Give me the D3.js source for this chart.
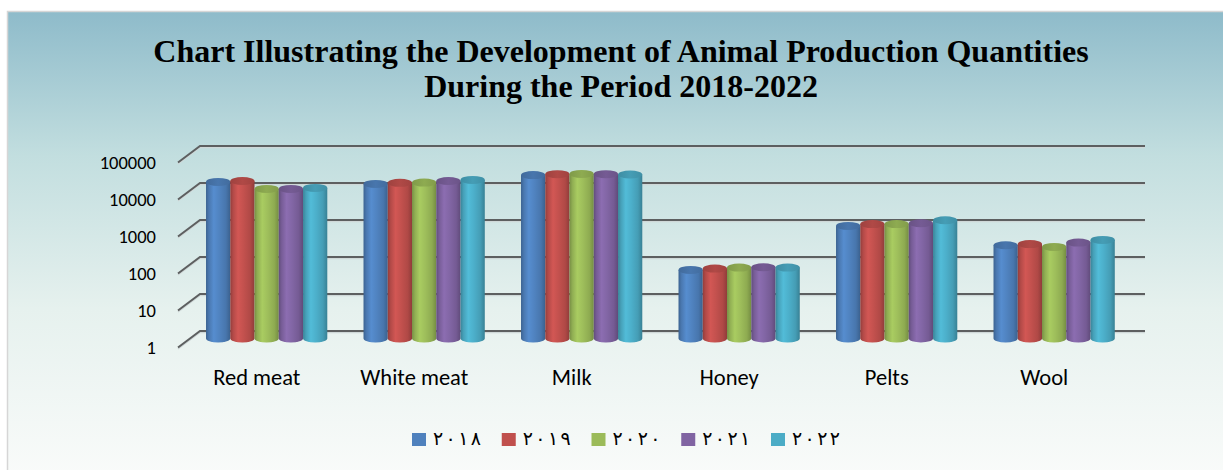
<!DOCTYPE html>
<html>
<head>
<meta charset="utf-8">
<script src="https://cdn.jsdelivr.net/npm/d3@7"></script>
<style>
  html, body { margin: 0; padding: 0; background: #ffffff; }
  svg { display: block; }
</style>
</head>
<body>
<svg id="chart" width="1223" height="470"></svg>
<script>
// Animal production quantities, 2018-2022 (log scale)
const categories = ["Red meat", "White meat", "Milk", "Honey", "Pelts", "Wool"];
const seriesNames = ["٢٠١٨", "٢٠١٩", "٢٠٢٠", "٢٠٢١", "٢٠٢٢"];
const values2018 = [17000, 15000, 26000, 71, 1100, 330];
const values2019 = [18000, 16000, 27500, 77, 1230, 355];
const values2020 = [11000, 16300, 28000, 82, 1230, 297];
const values2021 = [11000, 18000, 27500, 84, 1300, 390];
const values2022 = [11700, 19200, 27000, 82, 1560, 460];
const yTicks = [1, 10, 100, 1000, 10000, 100000];
const titleLines = [
  "Chart Illustrating the Development of Animal Production Quantities",
  "During the Period 2018-2022"
];
const seriesColors = ["#4f81bd", "#c0504d", "#9bbb59", "#8064a2", "#4bacc6"];

const seriesValues = [values2018, values2019, values2020, values2021, values2022];

const svg = d3.select("#chart");
const defs = svg.append("defs");

// chart area background
const bg = defs.append("linearGradient").attr("id", "bgGrad")
  .attr("x1", 0).attr("y1", 0).attr("x2", 0).attr("y2", 1);
[["0%", "#8ebbca"], ["30%", "#c2dedf"], ["62%", "#e6f1ee"], ["100%", "#fbfcfb"]]
  .forEach(([o, c]) => bg.append("stop").attr("offset", o).attr("stop-color", c));

svg.append("rect")
  .attr("x", 7.5).attr("y", 11.5).attr("width", 1230).attr("height", 480)
  .attr("fill", "url(#bgGrad)")
  .attr("stroke", "#d6d6d6").attr("stroke-width", 1.5);

// 3D geometry: depth offset of the back wall relative to the front edge
const depthX = 22, depthY = -16.5;
const frontLeft = 178, frontRight = 1123;
const barDepth = 0.45;  // bars sit a little behind the front edge

const x = d3.scaleBand().domain(categories).range([frontLeft, frontRight])
  .paddingInner(0.23).paddingOuter(0.115);
const xs = d3.scaleBand().domain(d3.range(seriesNames.length)).range([0, x.bandwidth()]);
// back wall scale
const y = d3.scaleLog().domain([1, 100000]).range([331, 146]);

// gridlines on back wall, with the diagonal tick on the side wall
const grid = svg.append("g");
yTicks.forEach(t => {
  const yb = y(t);
  const d = `M${frontLeft},${yb - depthY} L${frontLeft + depthX},${yb} L${frontRight + depthX},${yb}`;
  grid.append("path").attr("d", d)
    .attr("fill", "none").attr("stroke", "#cfd8d8").attr("stroke-width", 1.5)
    .attr("transform", "translate(0,1.5)");
  grid.append("path").attr("d", d)
    .attr("fill", "none").attr("stroke", "#5d5f60").attr("stroke-width", 2);
});

// y axis labels at the front edge
const axisG = svg.append("g")
  .attr("transform", `translate(${frontLeft - 20},${-depthY})`)
  .call(d3.axisLeft(y).tickValues(yTicks).tickFormat(d3.format("d")).tickSize(0).tickPadding(2));
axisG.select(".domain").remove();
axisG.selectAll("text")
  .attr("font-family", "Carlito, Calibri, Lato, sans-serif")
  .attr("font-size", 18.5).attr("fill", "#000");

// category labels
const catG = svg.append("g")
  .attr("transform", "translate(0,385)")
  .call(d3.axisBottom(x).tickSize(0).tickPadding(0));
catG.select(".domain").remove();
catG.selectAll("text")
  .attr("font-family", "Carlito, Calibri, Lato, sans-serif")
  .attr("font-size", 22.5).attr("fill", "#000").attr("y", 0).attr("dy", 0);

// cylinder gradients per series
seriesColors.forEach((c, i) => {
  const base = d3.color(c);
  const body = defs.append("linearGradient").attr("id", `body${i}`)
    .attr("x1", 0).attr("y1", 0).attr("x2", 1).attr("y2", 0);
  [["0%", base.darker(0.75)], ["12%", base.darker(0.2)], ["32%", base.brighter(0.25)],
   ["55%", base.brighter(0.05)], ["82%", base.darker(0.25)], ["100%", base.darker(0.8)]]
    .forEach(([o, col]) => body.append("stop").attr("offset", o).attr("stop-color", col));
  const top = defs.append("linearGradient").attr("id", `top${i}`)
    .attr("x1", 0).attr("y1", 0).attr("x2", 1).attr("y2", 0);
  [["0%", base.darker(0.55)], ["50%", base.darker(0.25)], ["100%", base.darker(0.5)]]
    .forEach(([o, col]) => top.append("stop").attr("offset", o).attr("stop-color", col));
});

// bars as cylinders
const shiftX = depthX * barDepth, shiftY = -depthY * barDepth;
const ry = 4;
const barsG = svg.append("g");
categories.forEach((cat, ci) => {
  seriesValues.forEach((vals, si) => {
    const v = vals[ci];
    const bx = x(cat) + xs(si) + shiftX;
    const bw = xs.bandwidth();
    const rx = bw / 2;
    const yTop = y(v) + shiftY;
    const yBase = y(1) + shiftY;
    const g = barsG.append("g");
    g.append("path")
      .attr("d", `M${bx},${yTop} L${bx},${yBase} A${rx},${ry} 0 0 0 ${bx + bw},${yBase} L${bx + bw},${yTop} Z`)
      .attr("fill", `url(#body${si})`);
    g.append("ellipse")
      .attr("cx", bx + rx).attr("cy", yTop).attr("rx", rx).attr("ry", ry)
      .attr("fill", `url(#top${si})`);
  });
});

// title
const title = svg.append("text")
  .attr("x", 621).attr("y", 62)
  .attr("text-anchor", "middle")
  .attr("font-family", "'Liberation Serif', 'Times New Roman', serif")
  .attr("font-weight", "bold").attr("font-size", 32).attr("fill", "#000");
titleLines.forEach((t, i) => {
  title.append("tspan").attr("x", 621).attr("dy", i === 0 ? 0 : 35).text(t);
});

// legend
const legend = svg.append("g").attr("transform", "translate(412,433)");
seriesNames.forEach((name, i) => {
  const item = legend.append("g").attr("transform", `translate(${i * 89.75},0)`);
  item.append("rect").attr("width", 14).attr("height", 13).attr("fill", seriesColors[i]);
  item.append("text")
    .attr("x", 21).attr("y", 12)
    .attr("font-family", "'DejaVu Sans', sans-serif")
    .attr("font-size", 19).attr("fill", "#000")
    .attr("textLength", 48).attr("lengthAdjust", "spacing")
    .text(name);
});
</script>
</body>
</html>
